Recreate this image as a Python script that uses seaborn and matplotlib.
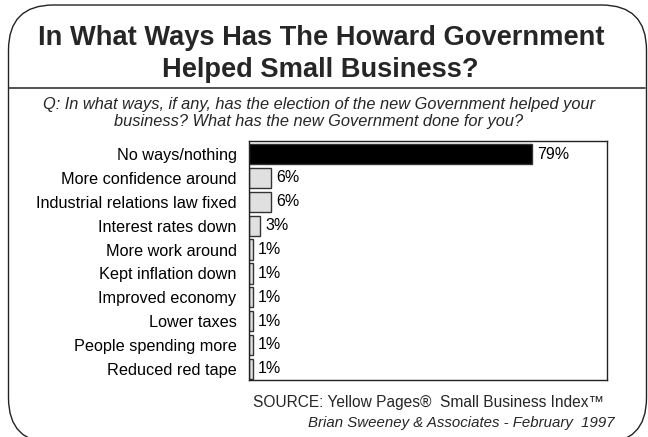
import matplotlib
matplotlib.use("Agg")
import matplotlib.pyplot as plt
from matplotlib.patches import FancyBboxPatch
from matplotlib.lines import Line2D
import seaborn as sns
import pandas as pd

# Survey responses (% of small businesses)
categories = [
    "No ways/nothing",
    "More confidence around",
    "Industrial relations law fixed",
    "Interest rates down",
    "More work around",
    "Kept inflation down",
    "Improved economy",
    "Lower taxes",
    "People spending more",
    "Reduced red tape",
]
values = [79, 6, 6, 3, 1, 1, 1, 1, 1, 1]
bar_colors = ["#000000"] + ["#e0e0e0"] * 9

title_text = "In What Ways Has The Howard Government\nHelped Small Business?"
question_lines = [
    "Q: In what ways, if any, has the election of the new Government helped your",
    "business? What has the new Government done for you?",
]
source_text = "SOURCE: Yellow Pages®  Small Business Index™"
credit_text = "Brian Sweeney & Associates - February  1997"

sns.set_theme(style="white")
plt.rcParams["font.family"] = ["Liberation Sans", "DejaVu Sans"]

df = pd.DataFrame({"category": categories, "value": values})

fig = plt.figure(figsize=(6.48, 4.37), dpi=100)
ax = fig.add_axes([0.3843, 0.1304, 0.5525, 0.5469])

sns.barplot(
    data=df, x="value", y="category", hue="category",
    palette=bar_colors, legend=False, orient="h",
    width=0.85, edgecolor="#333333", linewidth=1.0, ax=ax,
)

for container in ax.containers:
    ax.bar_label(container, labels=[f"{int(round(v))}%" for v in container.datavalues],
                 padding=4, fontsize=11.5, color="black")

ax.set_xlim(0, 100)
ax.set_ylim(9.47, -0.55)
ax.set_xlabel("")
ax.set_ylabel("")
ax.set_xticks([])
ax.tick_params(axis="y", length=0, pad=9, labelsize=11.7, labelcolor="black")
for spine in ax.spines.values():
    spine.set_visible(True)
    spine.set_color("#222222")
    spine.set_linewidth(1.0)

# Rounded outer frame
frame = FancyBboxPatch(
    (0.085, -0.06), 6.38, 4.38,
    boxstyle="round,pad=0,rounding_size=0.45",
    transform=fig.dpi_scale_trans, facecolor="none",
    edgecolor="#222222", linewidth=1.0, clip_on=False,
)
fig.patches.append(frame)

# Rule under the title
fig.add_artist(Line2D([0.014, 0.996], [0.7986, 0.7986], transform=fig.transFigure,
                      color="#333333", linewidth=1.2))

fig.text(0.495, 0.8764, title_text, ha="center", va="center",
         fontsize=19.6, fontweight="bold", linespacing=1.34)

fig.text(0.492, 0.762, question_lines[0], ha="center", va="center",
         fontsize=11.8, style="italic")
fig.text(0.492, 0.721, question_lines[1], ha="center", va="center",
         fontsize=11.8, style="italic")

fig.text(0.932, 0.078, source_text, ha="right", va="center", fontsize=11.2)
fig.text(0.949, 0.032, credit_text, ha="right", va="center", fontsize=10.8, style="italic")

fig.savefig("out.png", dpi=100)
